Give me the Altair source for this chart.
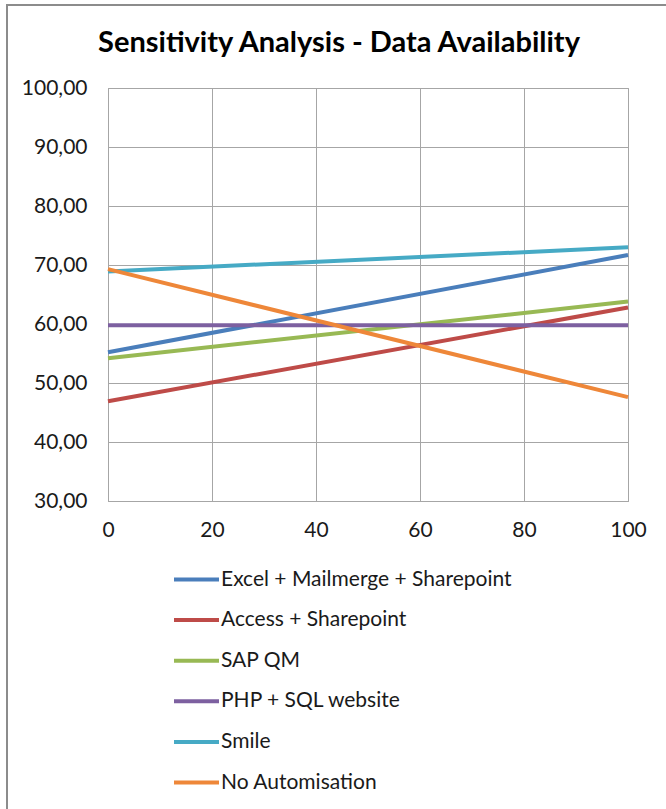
import altair as alt
import pandas as pd

title_text = ["Sensitivity Analysis - Data Availability"]
series = [
    "Excel + Mailmerge + Sharepoint",
    "Access + Sharepoint",
    "SAP QM",
    "PHP + SQL website",
    "Smile",
    "No Automisation",
]
x_values = [0, 100]
excel = [55.2, 71.7]
access = [46.9, 62.8]
sap_qm = [54.2, 63.8]
php_sql = [59.8, 59.8]
smile = [68.9, 73.0]
no_auto = [69.3, 47.6]
colors = ["#4A7EBB", "#BE4B48", "#98B954", "#7D60A0", "#46AAC5", "#EE8739"]
x_ticks = [0, 20, 40, 60, 80, 100]
y_ticks = [30, 40, 50, 60, 70, 80, 90, 100]

rows = []
for name, vals in zip(series, [excel, access, sap_qm, php_sql, smile, no_auto]):
    for xv, yv in zip(x_values, vals):
        rows.append({"series": name, "x": xv, "value": yv})
df = pd.DataFrame(rows)

FONT = "Lato"
GRID = "#a6a6a6"
FS = 21

lines = alt.Chart(df).mark_line(strokeWidth=4).encode(
    x=alt.X(
        "x:Q",
        scale=alt.Scale(domain=[0, 100], nice=False),
        axis=alt.Axis(values=x_ticks, title=None, labelPadding=18, labelFontSize=FS,
                      labelFont=FONT, labelColor="#1a1a1a", ticks=False, grid=True,
                      gridColor=GRID, domainColor=GRID, labelAngle=0, labelFlush=False),
    ),
    y=alt.Y(
        "value:Q",
        scale=alt.Scale(domain=[30, 100], nice=False),
        axis=alt.Axis(values=y_ticks, title=None, labelPadding=21, labelFontSize=FS,
                      labelFont=FONT, labelColor="#1a1a1a", ticks=False, grid=True,
                      gridColor=GRID, domainColor=GRID, labelFlush=False,
                      labelExpr="replace(format(datum.value, '.2f'), '.', ',')"),
    ),
    color=alt.Color(
        "series:N",
        sort=series,
        scale=alt.Scale(domain=series, range=colors),
        legend=alt.Legend(
            title=None, orient="none", legendX=64, legendY=467, padding=0,
            symbolType="stroke", symbolSize=2025, symbolStrokeWidth=4,
            labelFont=FONT, labelFontSize=FS, labelColor="#1a1a1a", labelLimit=500,
            labelOffset=0, rowPadding=5.6, direction="vertical",
        ),
    ),
)

frame = alt.Chart(pd.DataFrame({"a": [0]})).mark_rect(
    fill="transparent", stroke="#8c8c8c", strokeWidth=2, clip=False
).encode(
    x=alt.value(-101), x2=alt.value(640), y=alt.value(-83), y2=alt.value(800)
)

title = alt.Chart(pd.DataFrame({"t": title_text})).mark_text(
    font=FONT, fontSize=29, fontWeight="bold", color="black",
    align="center", baseline="alphabetic", clip=False,
).encode(text="t:N", x=alt.value(231), y=alt.value(-36))

chart = alt.layer(frame, lines, title).properties(
    width=520,
    height=413,
    padding={"left": 108, "top": 88, "right": 38, "bottom": 308},
    autosize=alt.AutoSizeParams(type="none"),
    background="white",
).configure_view(stroke=GRID)

chart.save("out.html", embed_options={"renderer": "svg", "actions": False})
